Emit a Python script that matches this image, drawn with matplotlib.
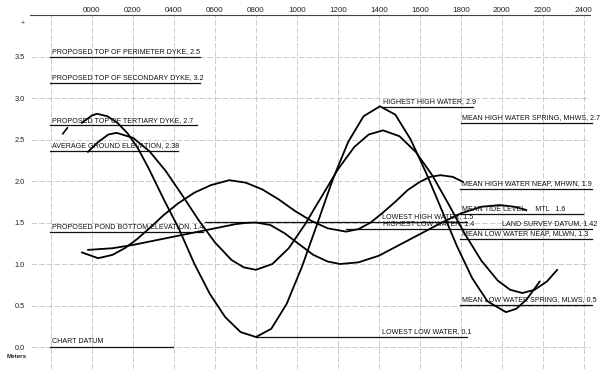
import matplotlib
matplotlib.use("Agg")
import matplotlib.pyplot as plt

# --- tide curves: hour of day, water level (m) ---
spring_hours = [-0.5, 0.0, 0.25, 0.75, 1.25, 1.75, 2.25, 2.75, 3.5, 4.25, 5.0, 5.75, 6.5, 7.25, 8.0,
                8.75, 9.5, 10.25, 11.0, 11.75, 12.5, 13.25, 14.05, 14.8, 15.55, 16.3, 17.05, 17.8,
                18.55, 19.3, 20.2, 20.7, 21.2, 21.85]
spring_level = [2.70, 2.79, 2.81, 2.78, 2.70, 2.57, 2.39, 2.16, 1.78, 1.42, 1.00, 0.64, 0.36, 0.18, 0.12,
                0.22, 0.52, 0.97, 1.49, 2.02, 2.47, 2.78, 2.90, 2.80, 2.50, 2.10, 1.66, 1.22,
                0.83, 0.55, 0.42, 0.46, 0.57, 0.79]
# short dash in front of the spring curve
spring_lead_hours = [-1.42, -1.2]
spring_lead_level = [2.57, 2.64]

mean_hours = [-0.2, 0.3, 0.8, 1.2, 2.0, 2.8, 3.6, 4.4, 5.2, 6.0, 6.8, 7.4, 8.0,
              8.8, 9.6, 10.4, 11.2, 12.0, 12.8, 13.5, 14.2, 15.0, 15.8, 16.6, 17.4,
              18.2, 19.0, 19.8, 20.4, 21.0, 21.6, 22.2, 22.7]
mean_level = [2.35, 2.47, 2.56, 2.58, 2.52, 2.36, 2.12, 1.83, 1.53, 1.26, 1.05, 0.96, 0.93,
              1.00, 1.19, 1.48, 1.81, 2.14, 2.41, 2.56, 2.61, 2.54, 2.35, 2.07, 1.72,
              1.36, 1.04, 0.80, 0.69, 0.65, 0.69, 0.79, 0.93]

neap_hours = [-0.5, 0.3, 1.0, 1.6, 2.2, 2.8, 3.5, 4.2, 5.0, 5.8, 6.7, 7.5, 8.3, 9.1, 9.9, 10.7,
              11.5, 12.4, 13.0, 13.6, 14.2, 14.8, 15.4, 16.0, 16.5, 17.0, 17.6, 18.1]
neap_level = [1.14, 1.07, 1.11, 1.19, 1.30, 1.43, 1.59, 1.73, 1.86, 1.95, 2.01, 1.98, 1.90, 1.78, 1.64, 1.52,
              1.43, 1.39, 1.42, 1.50, 1.62, 1.75, 1.89, 1.99, 2.05, 2.07, 2.05, 1.99]

low_hours = [-0.2, 1.0, 2.0, 3.0, 4.0, 5.0, 6.0, 7.0, 7.5, 8.0, 8.7, 9.4, 10.1, 10.8, 11.5, 12.1,
             13.0, 14.0, 15.0, 16.0, 17.0, 18.0, 19.0, 19.9, 20.6, 21.2]
low_level = [1.17, 1.19, 1.23, 1.28, 1.33, 1.38, 1.43, 1.48, 1.495, 1.50, 1.47, 1.37, 1.24, 1.11, 1.03, 1.00,
             1.02, 1.10, 1.23, 1.36, 1.49, 1.61, 1.69, 1.71, 1.69, 1.65]

# --- reference levels: label, drawn height, line start/end (h), label start (h) ---
ref_labels = ["PROPOSED TOP OF PERIMETER DYKE, 2.5", "PROPOSED TOP OF SECONDARY DYKE, 3.2",
              "PROPOSED TOP OF TERTIARY DYKE, 2.7", "AVERAGE GROUND ELEVATION, 2.38",
              "PROPOSED POND BOTTOM ELEVATION, 1.4", "CHART DATUM",
              "HIGHEST HIGH WATER, 2.9", "MEAN HIGH WATER SPRING, MHWS, 2.7",
              "MEAN HIGH WATER NEAP, MHWN, 1.9", "MEAN TIDE LEVEL,    MTL   1.6",
              "LOWEST HIGH WATER, 1.5", "HIGHEST LOW WATER, 1.4", "LAND SURVEY DATUM, 1.42",
              "MEAN LOW WATER NEAP, MLWN, 1.3", "MEAN LOW WATER SPRING, MLWS, 0.5",
              "LOWEST LOW WATER, 0.1"]
ref_heights = [3.49, 3.18, 2.67, 2.36, 1.39, 0.0, 2.89, 2.70, 1.90, 1.60, 1.51, 1.42, 1.42, 1.30, 0.51, 0.12]
ref_start = [-2.05, -2.05, -2.05, -2.05, -2.05, -2.05, 14.15, 18.0, 17.95, 17.95, 5.5, 12.4, 18.0, 17.95, 17.95, 8.0]
ref_end = [5.27, 5.27, 5.1, 4.2, 5.4, 3.95, 18.6, 24.4, 24.4, 23.95, 18.3, 18.2, 24.4, 24.4, 24.4, 18.3]
ref_text_x = [-1.95, -1.95, -1.95, -1.95, -1.95, -1.95, 14.2, 18.05, 18.05, 18.05, 14.15, 14.2, 20.0, 18.05, 18.05, 14.15]

hour_ticks = list(range(-2, 25, 2))
hour_labels = [""] + ["%02d00" % h for h in range(0, 25, 2)]
level_ticks = [0.0, 0.5, 1.0, 1.5, 2.0, 2.5, 3.0, 3.5]
level_labels = ["0.0", "0.5", "1.0", "1.5", "2.0", "2.5", "3.0", "3.5"]

plt.rcParams['font.family'] = ['Liberation Sans', 'DejaVu Sans']

fig = plt.figure(figsize=(6, 3.69), dpi=100)
ax = fig.add_axes([30.5 / 600, 0, 559.5 / 600, 354 / 369])
ax.set_xlim(-3, 24.3)
ax.set_ylim(-0.265, 4.0)

for s in ["left", "right", "bottom"]:
    ax.spines[s].set_visible(False)
ax.spines["top"].set_color("#444444")
ax.spines["top"].set_linewidth(0.8)

ax.xaxis.tick_top()
ax.set_xticks(hour_ticks)
ax.set_xticklabels(hour_labels, fontsize=5.8, color="#222222")
ax.set_yticks(level_ticks)
ax.set_yticklabels(level_labels, fontsize=5.3, color="#222222")
ax.tick_params(length=0, pad=1)
ax.tick_params(axis="y", pad=4)
ax.grid(True, color="#b8b8b8", linewidth=0.5, linestyle=(0, (8, 3)))

# reference lines with their labels
for lab, y, x0, x1, tx in zip(ref_labels, ref_heights, ref_start, ref_end, ref_text_x):
    ax.plot([x0, x1], [y, y], color="#111111", linewidth=0.9, clip_on=False)
    ax.text(tx, y + 0.022, lab, fontsize=5.1, color="#111111", ha="left", va="bottom", clip_on=False)

# tide curves
for hrs, lev in [(spring_hours, spring_level), (mean_hours, mean_level),
                 (neap_hours, neap_level), (low_hours, low_level)]:
    ax.plot(hrs, lev, color="black", linewidth=1.3, solid_capstyle="round")
ax.plot(spring_lead_hours, spring_lead_level, color="black", linewidth=1.2)

ax.text(-3.4, 3.9, "+", fontsize=5, color="#333333", ha="center", va="center", clip_on=False)
ax.text(-3.2, -0.11, "Meters", fontsize=4.5, fontweight="bold", color="#222222",
        ha="right", va="center", clip_on=False)

fig.savefig("out.png", dpi=100, facecolor="white")
